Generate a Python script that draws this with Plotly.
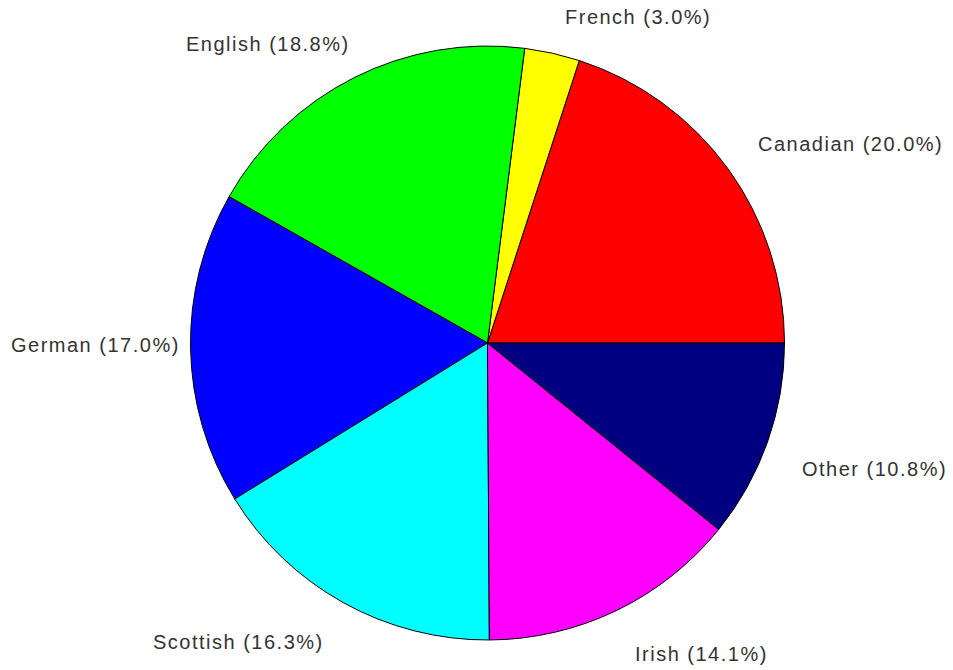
import math
import plotly.graph_objects as go

labels = ["Canadian", "French", "English", "German", "Scottish", "Irish", "Other"]
values = [20.0, 3.0, 18.8, 17.0, 16.3, 14.1, 10.8]
colors = ["#FF0000", "#FFFF00", "#00FF00", "#0000FF", "#00FFFF", "#FF00FF", "#000080"]

W, H = 953, 670
ML, MR, MT, MB = 22, 0, 46, 30
LABEL_R = 1.1  # label distance in units of the pie radius

fig = go.Figure(go.Pie(
    labels=labels,
    values=values,
    sort=False,
    direction="counterclockwise",
    rotation=18,
    marker=dict(colors=colors, line=dict(color="black", width=1)),
    textinfo="none",
    showlegend=False,
    hoverinfo="label+percent",
))

# outside labels, placed at the slice mid-angles computed from the data
pw, ph = W - ML - MR, H - MT - MB
R = min(pw, ph) / 2
total = sum(values)
cum = 0.0
annotations = []
for lab, v in zip(labels, values):
    mid = 2 * math.pi * (cum + v / 2) / total
    cum += v
    c, s = math.cos(mid), math.sin(mid)
    dx = LABEL_R * R * c / pw
    dy = LABEL_R * R * s / ph
    xanchor = "left" if c > 0 else "right"
    if abs(s) < 0.15:
        yshift, xshift = 4, 21
    elif s > 0:
        yshift, xshift = 7, (4 if c > 0 else 11)
    else:
        yshift, xshift = (-17 if c > 0 else -13), (4 if c > 0 else -3)
    pct = 100 * v / total
    annotations.append(dict(
        x=0.5 + dx, y=0.5 + dy, xref="paper", yref="paper",
        xanchor=xanchor, yanchor="middle",
        xshift=xshift, yshift=yshift,
        text=f'<span style="letter-spacing:1.5px">{lab} ({pct:.1f}%)</span>',
        showarrow=False,
        font=dict(family="Liberation Sans, Arial, sans-serif", size=20, color="#333333"),
    ))

fig.update_layout(
    width=W,
    height=H,
    margin=dict(l=ML, r=MR, t=MT, b=MB, autoexpand=False),
    paper_bgcolor="white",
    plot_bgcolor="white",
    annotations=annotations,
)

fig.write_html(
    "out.html",
    config={"displayModeBar": False},
    post_script="document.body.style.margin='0';document.body.style.overflow='hidden';",
)
